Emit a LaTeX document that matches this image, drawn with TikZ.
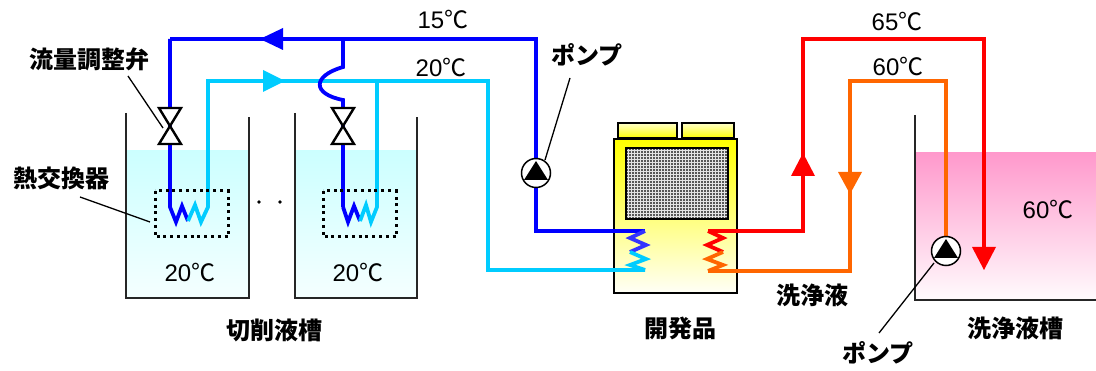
\documentclass[tikz,border=0pt]{standalone}
\usepackage{fontspec}
\setmainfont{Liberation Sans}
\newfontfamily\jp{Noto Sans CJK JP}
\newcommand\degc{{\jp ℃}}
\definecolor{dblue}{HTML}{0000FF}
\definecolor{mblue}{HTML}{3333FF}
\definecolor{lblue}{HTML}{00CCFF}
\definecolor{pred}{HTML}{FF0000}
\definecolor{porange}{HTML}{FF6600}
\definecolor{ppink}{HTML}{FF99CC}
\begin{document}
\begin{tikzpicture}[x=1pt,y=-1pt,
  pipe/.style={line width=3.8pt,line join=miter},
  wall/.style={line width=1.8pt,black!85},
  valve/.style={line width=2.4pt,black,fill=white,line join=miter},
  dotbox/.style={line width=3pt,black,dash pattern=on 3pt off 3.8pt},
  leader/.style={line width=1.3pt,black},
  pumpc/.style={circle,draw=black,fill=white,line width=1.5pt,minimum size=29pt,inner sep=0pt},
  num/.style={inner sep=0pt,font=\fontsize{24}{28}\selectfont},
  jlab/.style={inner sep=0pt,font=\fontsize{24}{28}\selectfont\jp\bfseries},
  unitline/.style={line width=1.6pt,black}]
\useasboundingbox (0,0) rectangle (1096,371);

% ---- tanks (cutting fluid) ----
\shade[top color=cyan!20,bottom color=cyan!4] (126,151) rectangle (249,298);
\shade[top color=cyan!20,bottom color=cyan!4] (295,151) rectangle (417,298);
\draw[wall] (126,113) -- (126,298) -- (249,298) -- (249,117);
\draw[wall] (295,113) -- (295,298) -- (417,298) -- (417,117);

% ---- wash tank ----
\shade[top color=ppink,bottom color=ppink!4] (915,153) rectangle (1096,300);
\draw[wall] (915,115) -- (915,300) -- (1096,300);

% ---- unit (開発品) ----
\shade[top color=yellow!20,bottom color=yellow] (618,123) rectangle (677,138);
\draw[unitline] (618,123) rectangle (677,138);
\shade[top color=yellow!20,bottom color=yellow] (682,123) rectangle (734,138);
\draw[unitline] (682,123) rectangle (734,138);
\shade[top color=yellow,middle color=yellow!30,bottom color=yellow!3] (614,139) rectangle (737,293);
\draw[unitline] (614,139) rectangle (737,293);
\fill[gray!70!black] (626,148) rectangle (728,219);
\foreach \x in {628,631,...,727} \draw[gray!20,line width=0.6pt] (\x,148) -- (\x,219);
\foreach \y in {150,153,...,218} \draw[gray!20,line width=0.6pt] (626,\y) -- (728,\y);
\draw[line width=1.5pt,black] (626,148) rectangle (728,219);

% ---- named points ----
\coordinate (hxbin) at (645,231);
\coordinate (hxbout) at (645,270);
\coordinate (hxrout) at (708,231);
\coordinate (hxrin) at (708,271);

% ---- light blue return (20C) ----
\draw[pipe,dblue] (170,39) -- (170,207) -- (176,222) -- (182,206) -- (188,221);
\draw[pipe,lblue] (188,221) -- (195,205) -- (201,222) -- (208,207) -- (208,81) -- (488,81) -- (488,270) -- (hxbout);
\draw[pipe,dblue] (343,207) -- (348,222) -- (354,206) -- (360,221);
\draw[pipe,lblue] (360,221) -- (366,205) -- (371,222) -- (377,207) -- (377,81);
% ---- dark blue supply (15C) ----
\draw[pipe,dblue] (hxbin) -- (536,231) -- (536,39) -- (170,39);
\draw[pipe,dblue] (343,39) -- (343,67) .. controls (312,76) and (312,94) .. (343,100) -- (343,207);

% unit coils
\draw[pipe,mblue] (hxbin) -- (630,238) -- (646,245) -- (630,252);
\draw[pipe,lblue] (630,252) -- (646,259) -- (630,265) -- (hxbout);
\draw[pipe,pred] (hxrout) -- (723,238) -- (707,245) -- (723,252);
\draw[pipe,porange] (723,252) -- (707,259) -- (723,265) -- (hxrin);

% ---- red / orange loops ----
\draw[pipe,pred] (hxrout) -- (803,231) -- (803,39) -- (984,39) -- (984,250);
\draw[pipe,porange] (hxrin) -- (850,271) -- (850,81) -- (946,81) -- (946,240);

% ---- arrowheads ----
\fill[dblue] (260,39) -- (283,28) -- (283,50) -- cycle;
\fill[lblue] (285,81) -- (263,70) -- (263,92) -- cycle;
\fill[pred] (803,153) -- (791,176) -- (815,176) -- cycle;
\fill[porange] (850,194) -- (838,172) -- (862,172) -- cycle;
\fill[pred] (984,270) -- (972,247) -- (996,247) -- cycle;

% ---- valves ----
\draw[valve] (159,108) -- (181,108) -- (159,144) -- (181,144) -- cycle;
\draw[valve] (332,108) -- (354,108) -- (332,144) -- (354,144) -- cycle;

% ---- heat exchanger boxes ----
\draw[dotbox] (155,191) rectangle (228,237);
\draw[dotbox] (323,191) rectangle (396,237);
\fill (259,202) circle (1.8);
\fill (280,202) circle (1.8);

% ---- pumps ----
\node[pumpc] (p1) at (536,173) {};
\fill (536,161) -- (524,180) -- (548,180) -- cycle;
\node[pumpc] (p2) at (946,251) {};
\fill (946,239) -- (934,258) -- (958,258) -- cycle;

% ---- texts ----
\node[num] (t15) at (443,20) {15\degc};
\node[num] (t20a) at (441,68) {20\degc};
\node[num] (t65) at (897,22) {65\degc};
\node[num] (t60a) at (898,67) {60\degc};
\node[num] (t20b) at (190,273) {20\degc};
\node[num] (t20c) at (358,273) {20\degc};
\node[num] (t60b) at (1048,210) {60\degc};

\node[jlab] (lk) at (274,330) {切削液槽};
\node[jlab] (lh) at (680,328) {開発品};
\node[jlab] (lw) at (812,295) {洗浄液};
\node[jlab] (lwt) at (1015,328) {洗浄液槽};
\node[jlab] (lv) at (90,59) {流量調整弁};
\node[jlab] (lx) at (61,178) {熱交換器};
\node[jlab] (lp1) at (587,55) {ポンプ};
\node[jlab] (lp2) at (878,353) {ポンプ};

% ---- leaders ----
\coordinate (lv1) at (128,76);  \coordinate (lv2) at (163,128);
\coordinate (lx1) at (80,197);  \coordinate (lx2) at (150,222);
\coordinate (lp1a) at (570,78); \coordinate (lp1b) at (545,160);
\coordinate (lp2a) at (934,263); \coordinate (lp2b) at (879,333);
\draw[leader] (lv1) -- (lv2);
\draw[leader] (lx1) -- (lx2);
\draw[leader] (lp1a) -- (lp1b);
\draw[leader] (lp2a) -- (lp2b);
\end{tikzpicture}
\end{document}
